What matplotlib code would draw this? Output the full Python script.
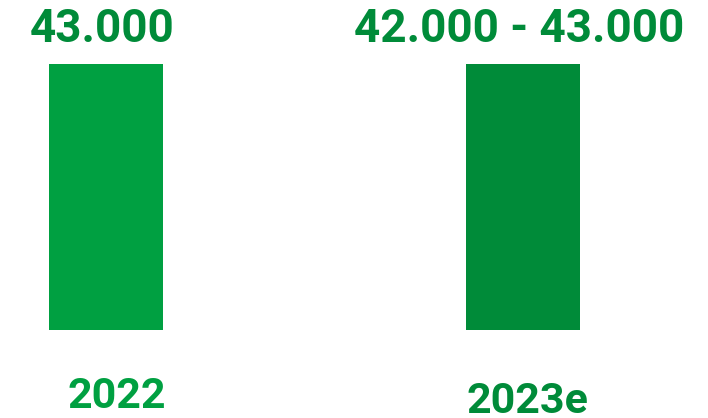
import matplotlib.pyplot as plt

# datos
categorias = ['2022', '2023e']
valores = [43000, 43000]
etiquetas_valor = ['43.000', '42.000 - 43.000']
colores_barra = ['#00A041', '#008B39']
color_texto = '#008B39'

plt.rcParams['font.family'] = ['Roboto', 'DejaVu Sans']

fig = plt.figure(figsize=(7.08, 4.18), dpi=100)
ax = fig.add_axes([0, 0, 1, 1])

x = list(range(len(categorias)))
ax.bar(x, valores, width=0.273, color=colores_barra)

# etiquetas encima de las barras
for xi, v, lab in zip(x, valores, etiquetas_valor):
    ax.annotate(lab, (xi, v), xytext=(-3, 15.8), textcoords='offset points',
                ha='center', va='baseline', fontsize=33, fontweight='bold',
                color=color_texto)

# categorias debajo
desp = [(8, -56), (3, -59.5)]
for xi, cat, col, d in zip(x, categorias, colores_barra, desp):
    ax.annotate(cat, (xi, 0), xytext=d, textcoords='offset points',
                ha='center', va='baseline', fontsize=31, fontweight='bold',
                color=col)

ax.set_xlim(-0.254, 1.444)
ax.set_ylim(-14226, 53346)
ax.axis('off')

fig.savefig('out.png', dpi=100)
